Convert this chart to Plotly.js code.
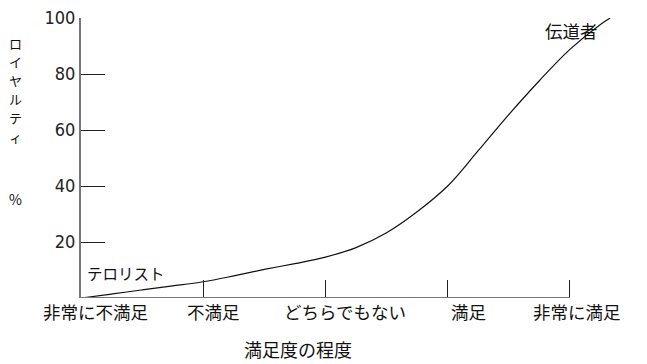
<!DOCTYPE html>
<html>
<head>
<meta charset="utf-8">
<script src="https://cdn.plot.ly/plotly-3.0.1.min.js"></script>
<style>html,body{margin:0;padding:0;background:#fff;}#chart{width:647px;height:364px;}</style>
</head>
<body>
<div id="chart"></div>
<script>
// Satisfaction categories (x axis)
const categories = ["非常に不満足", "不満足", "どちらでもない", "満足", "非常に満足"];
// Loyalty curve (x = satisfaction position, y = loyalty %)
const curveX = [0, 0.25, 0.5, 0.75, 1, 1.25, 1.5, 1.75, 2, 2.25, 2.5, 2.75, 3, 3.25, 3.5, 3.75, 4, 4.25, 4.33];
const curveY = [0, 1.4, 2.9, 4.3, 5.8, 7.9, 10.2, 12.3, 14.6, 18, 23.3, 30.8, 40, 52.6, 65.5, 77.6, 88.8, 97.7, 100];
const yTickVals = [20, 40, 60, 80, 100];
const curveLabels = [{text: "テロリスト", x: 0.37, y: 9}, {text: "伝道者", x: 4.01, y: 95.6}];
const yTitle = "ロイヤルティ";
const yUnit = "%";
const xTitle = "満足度の程度";

// label shifts (styling)
const labelShift = [14, 10, 20, 21, 7];

const jp = '"Noto Sans CJK JP", "Noto Sans", sans-serif';
const W = 647, H = 364, ml = 81, mr = 16, mt = 18, mb = 66;
const px = v => (v - ml) / (W - ml - mr);
const py = v => 1 - (v - mt) / (H - mt - mb);

const annotations = [];
categories.forEach((c, i) => {
  annotations.push({x: i, y: 0, xref: 'x', yref: 'y', text: c, showarrow: false,
    xanchor: 'center', yanchor: 'middle', xshift: labelShift[i], yshift: -13,
    font: {family: jp, size: 17.5, color: '#111'}});
});
curveLabels.forEach(l => {
  annotations.push({x: l.x, y: l.y, xref: 'x', yref: 'y', text: l.text, showarrow: false,
    xanchor: 'center', yanchor: 'middle', font: {family: jp, size: l.text.length > 3 ? 15.5 : 17.5, color: '#111'}});
});
yTitle.split('').forEach((ch, i) => {
  annotations.push({x: px(15), y: py(43 + i * 18.6), xref: 'paper', yref: 'paper', text: ch,
    showarrow: false, xanchor: 'center', yanchor: 'middle', borderpad: 0, borderwidth: 0,
    font: {family: jp, size: 13, color: '#111'}});
});
annotations.push({x: px(15), y: py(199), xref: 'paper', yref: 'paper', text: yUnit,
  showarrow: false, xanchor: 'center', yanchor: 'middle', font: {family: jp, size: 14, color: '#111'}});
annotations.push({x: 2, y: 0, xref: 'x', yref: 'y', text: xTitle, showarrow: false,
  xanchor: 'center', yanchor: 'middle', xshift: -27, yshift: -51,
  font: {family: jp, size: 18, color: '#111'}});

const trace = {x: curveX, y: curveY, type: 'scatter', mode: 'lines',
  line: {color: '#111', width: 1.2, shape: 'spline', smoothing: 1}, hoverinfo: 'skip'};

const layout = {
  width: W, height: H,
  margin: {l: ml, r: mr, t: mt, b: mb},
  paper_bgcolor: '#fff', plot_bgcolor: '#fff',
  showlegend: false,
  xaxis: {range: [0, 4.5], showgrid: false, zeroline: false, showline: false,
    tickvals: [1, 2, 3, 4], ticktext: ['', '', '', ''], ticks: 'inside', ticklen: 18,
    tickcolor: '#222', tickwidth: 1, fixedrange: true},
  yaxis: {range: [0, 100], showgrid: false, zeroline: false, showline: true,
    linecolor: '#777', linewidth: 2, tickvals: yTickVals, ticks: 'inside', ticklen: 24,
    tickcolor: '#222', tickwidth: 1,
    tickfont: {family: '"Liberation Sans Narrow", "DejaVu Sans Condensed", sans-serif', size: 18, color: '#222'},
    fixedrange: true},
  shapes: [{type: 'line', xref: 'x', yref: 'y', x0: 0, x1: 4, y0: 0, y1: 0,
    line: {color: '#777', width: 2}}],
  annotations: annotations
};

Plotly.newPlot('chart', [trace], layout, {displayModeBar: false, staticPlot: true});
</script>
</body>
</html>
